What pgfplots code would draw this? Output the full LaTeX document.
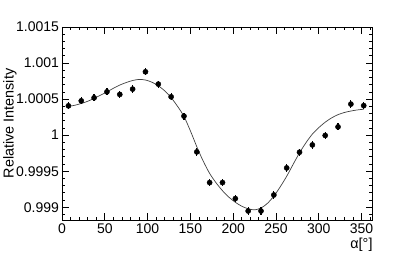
\documentclass[border=0pt]{standalone}
\usepackage{fontspec}
\setmainfont{Liberation Sans}
\usepackage{pgfplots}
\pgfplotsset{compat=1.18}
\begin{document}
\begin{tikzpicture}
\useasboundingbox (0,0) rectangle (415pt,260pt);
\begin{axis}[
  at={(62pt,40pt)}, anchor=south west,
  scale only axis, width=310.7pt, height=193pt,
  xmin=0, xmax=363, ymin=0.998824, ymax=1.0015,
  xtick={0,50,100,150,200,250,300,350},
  xticklabels={0,50,100,150,200,250,300,350},
  minor xtick={10,20,30,40,60,70,80,90,110,120,130,140,160,170,180,190,210,220,230,240,260,270,280,290,310,320,330,340,360},
  ytick={0.999,0.9995,1,1.0005,1.001,1.0015},
  yticklabels={0.999,0.9995,1,1.0005,1.001,1.0015},
  minor ytick={0.9989,0.9991,0.9992,0.9993,0.9994,0.9996,0.9997,0.9998,0.9999,1.0001,1.0002,1.0003,1.0004,1.0006,1.0007,1.0008,1.0009,1.0011,1.0012,1.0013,1.0014},
  tick align=inside,
  major tick length=7pt, minor tick length=3.5pt,
  every tick/.style={black, line width=0.8pt},
  axis line style={black, line width=0.8pt},
  tick label style={font=\fontsize{14}{16}\selectfont},
  xticklabel style={inner sep=0pt, yshift=-3.5pt},
  yticklabel style={inner sep=0pt, xshift=-2.8pt},
  xlabel={α[°]},
  ylabel={Relative Intensity},
  every axis x label/.style={at={([yshift=-18pt]rel axis cs:1,0)}, anchor=north east, inner sep=0pt, font=\fontsize{14.4}{16}\selectfont},
  every axis y label/.style={at={([xshift=-59pt]rel axis cs:0,0.5)}, rotate=90, anchor=north, inner sep=0pt, font=\fontsize{14.4}{16}\selectfont},
]
\addplot[smooth, black!75, line width=0.7pt] coordinates {
(7.5,1.00040) (15,1.000415) (22.5,1.00044) (30,1.00047) (37.5,1.00051)
(45,1.000555) (52.5,1.00060) (60,1.00065) (67.5,1.000695) (75,1.00073)
(82.5,1.000758) (90,1.000773) (97.5,1.000765) (105,1.000735) (112.5,1.000685)
(120,1.000615) (127.5,1.00052) (135,1.00040) (142.5,1.00026) (150,1.00006)
(157.5,0.99984) (165,0.99964) (172.5,0.99947) (180,0.99934) (187.5,0.99923)
(195,0.99914) (202.5,0.99907) (210,0.999015) (217.5,0.99898) (225,0.998965)
(232.5,0.99899) (240,0.999055) (247.5,0.999155) (255,0.999285) (262.5,0.99943)
(270,0.999595) (277.5,0.999755) (285,0.999895) (292.5,1.000015) (300,1.000105)
(307.5,1.00018) (315,1.00024) (322.5,1.000285) (330,1.000315) (337.5,1.000335)
(345,1.00035) (352.5,1.00036)
};
\addplot[only marks, mark=*, mark size=2.6pt, black,
  error bars/.cd, y dir=both, y fixed=0.00005, error mark=none,
  error bar style={line width=1.2pt}] coordinates {
(7.5,1.000407) (22.5,1.000476) (37.5,1.000518) (52.5,1.000601)
(67.5,1.000565) (82.5,1.000639) (97.5,1.000879) (112.5,1.000708)
(127.5,1.000532) (142.5,1.000264) (157.5,0.999768) (172.5,0.999343)
(187.5,0.999343) (202.5,0.999121) (217.5,0.998949) (232.5,0.998949)
(247.5,0.999171) (262.5,0.999546) (277.5,0.999764) (292.5,0.999865)
(307.5,0.999996) (322.5,1.000115) (337.5,1.000431) (352.5,1.000410)
};
\end{axis}
\end{tikzpicture}
\end{document}
